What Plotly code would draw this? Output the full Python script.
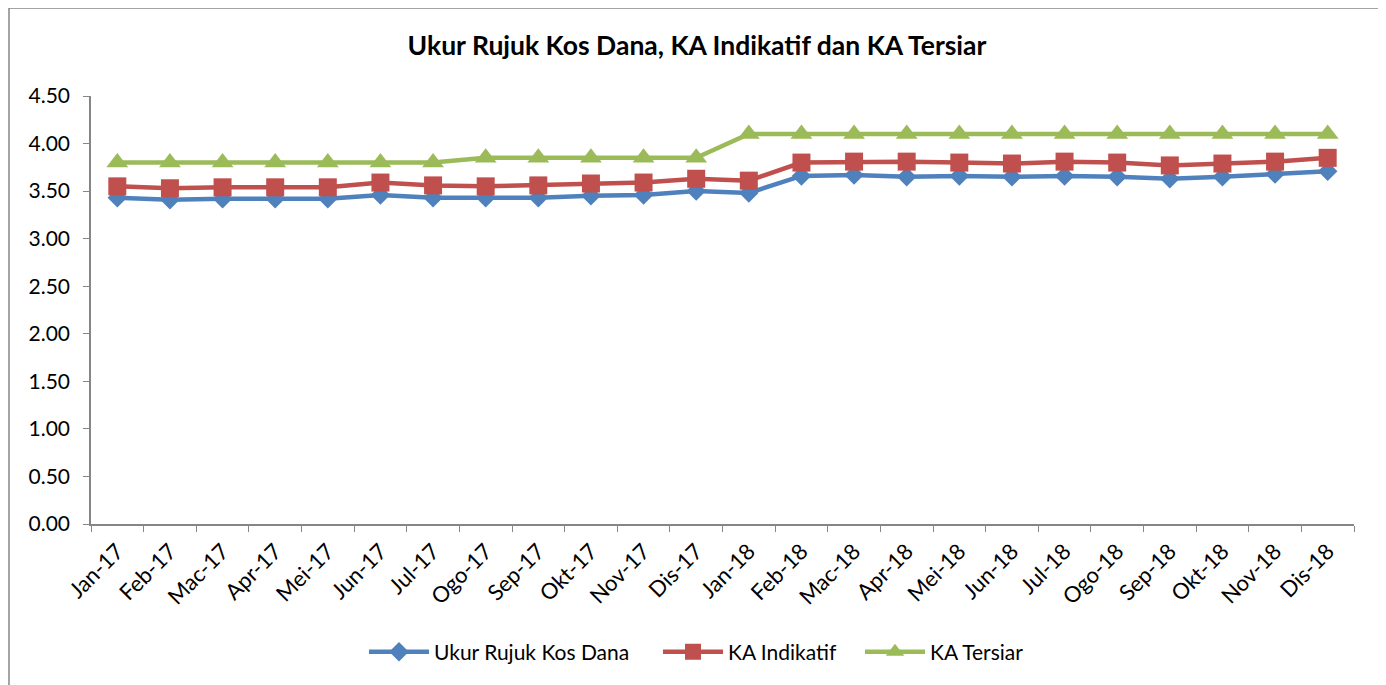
import plotly.graph_objects as go

months = ["Jan-17", "Feb-17", "Mac-17", "Apr-17", "Mei-17", "Jun-17", "Jul-17", "Ogo-17",
          "Sep-17", "Okt-17", "Nov-17", "Dis-17", "Jan-18", "Feb-18", "Mac-18", "Apr-18",
          "Mei-18", "Jun-18", "Jul-18", "Ogo-18", "Sep-18", "Okt-18", "Nov-18", "Dis-18"]

ukur_rujuk = [3.43, 3.41, 3.42, 3.42, 3.42, 3.46, 3.43, 3.43, 3.43, 3.45, 3.46, 3.50,
              3.48, 3.66, 3.67, 3.65, 3.66, 3.65, 3.66, 3.65, 3.63, 3.65, 3.68, 3.71]
ka_indikatif = [3.55, 3.53, 3.54, 3.54, 3.54, 3.59, 3.56, 3.55, 3.56, 3.58, 3.59, 3.63,
                3.61, 3.80, 3.81, 3.81, 3.80, 3.79, 3.81, 3.80, 3.77, 3.79, 3.81, 3.85]
ka_tersiar = [3.80, 3.80, 3.80, 3.80, 3.80, 3.80, 3.80, 3.85, 3.85, 3.85, 3.85, 3.85,
              4.10, 4.10, 4.10, 4.10, 4.10, 4.10, 4.10, 4.10, 4.10, 4.10, 4.10, 4.10]

yticks = [0, 0.5, 1.0, 1.5, 2.0, 2.5, 3.0, 3.5, 4.0, 4.5]

FONT = "Lato, 'Open Sans', sans-serif"

fig = go.Figure()
fig.add_trace(go.Scatter(x=months, y=ukur_rujuk, name="Ukur Rujuk Kos Dana", mode="lines+markers",
                         line=dict(color="#4F81BD", width=4.5),
                         marker=dict(symbol="diamond", size=15, color="#4F81BD"),
                         legend="legend"))
fig.add_trace(go.Scatter(x=months, y=ka_indikatif, name="KA Indikatif", mode="lines+markers",
                         line=dict(color="#C0504D", width=4.5),
                         marker=dict(symbol="square", size=18, color="#C0504D"),
                         legend="legend2"))
fig.add_trace(go.Scatter(x=months, y=ka_tersiar, name="KA Tersiar", mode="lines+markers",
                         line=dict(color="#9BBB59", width=4.5),
                         marker=dict(symbol="triangle-up", size=19, color="#9BBB59"),
                         legend="legend3"))

# plot area in figure px: x 83..1346, y 88..516 (page has 8px body offset)
PW, PH = 1263, 428
def lx(px):
    return (px - 8 - 83) / PW
LEG_Y = (516 - (652 - 8)) / PH

legend_common = dict(orientation="h", y=LEG_Y, yanchor="middle", xanchor="left",
                     font=dict(family=FONT, size=21, color="black"), itemwidth=60,
                     bgcolor="rgba(0,0,0,0)")

fig.update_layout(
    width=1386, height=685,
    margin=dict(l=83, r=40, t=88, b=169),
    paper_bgcolor="white", plot_bgcolor="white",
    font=dict(family=FONT, size=20, color="black"),
    title=dict(text="<b>Ukur Rujuk Kos Dana, KA Indikatif dan KA Tersiar</b>",
               x=689 / 1386, xanchor="center", y=1 - 38 / 685, yanchor="middle",
               font=dict(family=FONT, size=26.5, color="black")),
    showlegend=True,
    legend=dict(x=lx(364), **legend_common),
    legend2=dict(x=lx(658), **legend_common),
    legend3=dict(x=lx(860), **legend_common),
    xaxis=dict(type="category", tickangle=-45, showgrid=False, showline=True,
               linecolor="#868686", linewidth=1.5, ticks="outside", ticklen=6,
               tickcolor="#868686", tickson="boundaries", range=[-0.5, 23.5],
               ticklabelstandoff=4,
               tickfont=dict(family=FONT, size=22)),
    yaxis=dict(range=[0, 4.5], tickvals=yticks, tickformat=".2f", showgrid=False,
               showline=True, linecolor="#868686", linewidth=1.5, ticks="outside",
               ticklen=6, tickcolor="#868686", zeroline=False, ticklabelstandoff=9,
               tickfont=dict(family=FONT, size=21)),
    shapes=[dict(type="rect", xref="paper", yref="paper",
                 x0=(9 - 91) / PW, x1=(1380 - 91) / PW,
                 y0=(524 - 700) / PH, y1=(524 - 8) / PH,
                 line=dict(color="#868686", width=1.5), fillcolor="rgba(0,0,0,0)",
                 layer="below")],
)

fig.write_html("out.html")
